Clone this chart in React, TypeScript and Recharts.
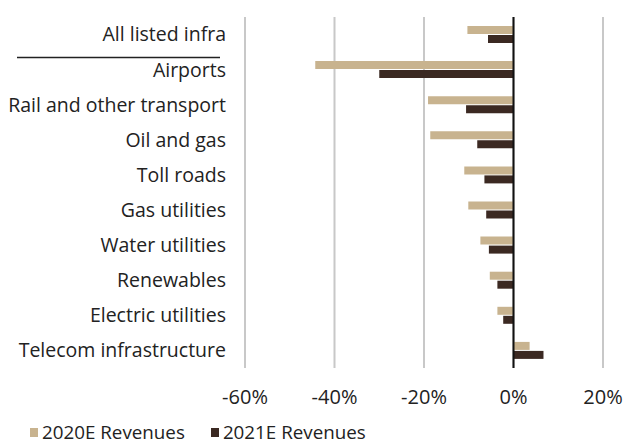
import {
    BarChart,
    Bar,
    XAxis,
    YAxis,
    CartesianGrid,
    ReferenceLine,
    Legend,
} from "recharts";

const categories = [
    "All listed infra",
    "Airports",
    "Rail and other transport",
    "Oil and gas",
    "Toll roads",
    "Gas utilities",
    "Water utilities",
    "Renewables",
    "Electric utilities",
    "Telecom infrastructure",
];
const revenues2020 = [-10.3, -44.3, -19.1, -18.6, -11, -10.1, -7.4, -5.3, -3.6, 3.6];
const revenues2021 = [-5.7, -30, -10.6, -8.1, -6.5, -6.1, -5.5, -3.6, -2.3, 6.7];
const xTicks = [-60, -40, -20, 0, 20];

const seriesNames = ["2020E Revenues", "2021E Revenues"];
const colors = ["#c8b38f", "#3b2922"];
const font = "'Open Sans', sans-serif";

const data = categories.map((name, i) => ({
    name,
    r2020: revenues2020[i],
    r2021: revenues2021[i],
}));

function CategoryTick({ x, y, payload, index }) {
    return (
        <g>
            <text
                x={x}
                y={y}
                dy="0.355em"
                textAnchor="end"
                fill="#222"
                fontSize={19.5}
                fontFamily={font}
            >
                {payload.value}
            </text>
            {index === 0 && (
                <line x1={17} x2={220} y1={y + 23} y2={y + 23} stroke="#222" strokeWidth={1.5} />
            )}
        </g>
    );
}

function CustomLegend() {
    return (
        <div
            style={{
                display: "flex",
                alignItems: "center",
                height: 22,
                paddingLeft: 30,
                fontFamily: font,
                fontSize: 18.8,
                color: "#222",
                lineHeight: "22px",
                whiteSpace: "nowrap",
            }}
        >
            {seriesNames.map((name, index) => (
                <span
                    key={name}
                    style={{ display: "flex", alignItems: "center", marginRight: 26 }}
                >
                    <span
                        style={{
                            display: "inline-block",
                            width: 8,
                            height: 9,
                            background: colors[index],
                            marginRight: 4,
                        }}
                    />
                    {name}
                </span>
            ))}
        </div>
    );
}

export default function App() {
    return (
        <div
            style={{
                position: "absolute",
                left: 0,
                top: 0,
                width: 625,
                height: 445,
                overflow: "hidden",
            }}
        >
            <BarChart
                width={625}
                height={445}
                data={data}
                layout="vertical"
                margin={{ top: 17, right: 22, bottom: 0, left: 0 }}
                barSize={8}
                barGap={1}
            >
                <CartesianGrid horizontal={false} stroke="#c8c8c8" strokeWidth={2} />
                <XAxis
                    type="number"
                    domain={[-60, 20]}
                    ticks={xTicks}
                    tickFormatter={(v) => `${v}%`}
                    axisLine={false}
                    tickLine={false}
                    tickSize={0}
                    tickMargin={22}
                    height={55}
                    tick={{ fill: "#222", fontSize: 20, fontFamily: font }}
                />
                <YAxis
                    type="category"
                    dataKey="name"
                    width={245}
                    axisLine={false}
                    tickLine={false}
                    tickSize={0}
                    tickMargin={19}
                    interval={0}
                    tick={<CategoryTick />}
                />
                <Bar dataKey="r2020" name={seriesNames[0]} fill={colors[0]} isAnimationActive={false} />
                <Bar dataKey="r2021" name={seriesNames[1]} fill={colors[1]} isAnimationActive={false} />
                <ReferenceLine x={0} stroke="#111" strokeWidth={2} />
                <Legend
                    verticalAlign="bottom"
                    align="left"
                    content={<CustomLegend />}
                    wrapperStyle={{ left: 0, top: 421, bottom: "auto", width: 625, height: 22 }}
                />
            </BarChart>
        </div>
    );
}
